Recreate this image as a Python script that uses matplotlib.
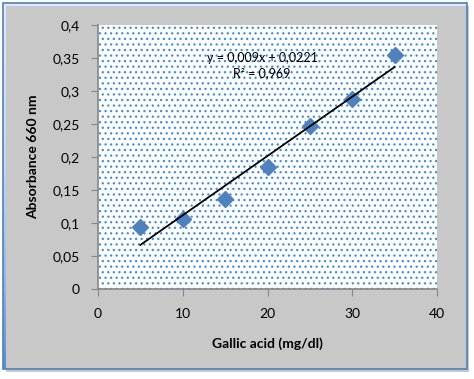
import matplotlib
matplotlib.use('Agg')
import matplotlib.pyplot as plt
import numpy as np
from matplotlib.colors import LinearSegmentedColormap
from matplotlib.patches import Rectangle
from matplotlib.ticker import FuncFormatter

# Datos
concentracion = [5, 10, 15, 20, 25, 30, 35]
absorbancia = [0.094, 0.106, 0.136, 0.185, 0.247, 0.288, 0.355]
x_ticks = [0, 10, 20, 30, 40]
y_ticks = [0, 0.05, 0.1, 0.15, 0.2, 0.25, 0.3, 0.35, 0.4]
ecuacion = "y = 0,009x + 0,0221"
r2 = "R² = 0,969"

plt.rcParams['font.family'] = ['Lato', 'DejaVu Sans']
plt.rcParams['hatch.linewidth'] = 0.9

fig = plt.figure(figsize=(4.74, 3.79), dpi=100)
fig.patch.set_facecolor('white')

# Fondo degradado del área del gráfico
bg = fig.add_axes([0, 0, 1, 1], zorder=-10)
bg.set_xlim(0, 474)
bg.set_ylim(379, 0)
bg.axis('off')
cmap = LinearSegmentedColormap.from_list(
    'fondo', [(0, '#e0eafb'), (0.45, '#c3d7f6'), (0.75, '#95b8ea'), (1, '#5a8dd4')])
grad = np.linspace(0, 1, 256).reshape(-1, 1)
# sombra
bg.add_patch(Rectangle((6, 6), 463, 366, facecolor='#c8c8c8', edgecolor='none'))
bg.imshow(grad, cmap=cmap, extent=[3, 467, 369, 3], aspect='auto')
bg.add_patch(Rectangle((3, 3), 464, 366, facecolor='none', edgecolor='#4f81bd', lw=1.2))

ax = fig.add_axes([98 / 474, 1 - 289 / 379, (437 - 98) / 474, (289 - 25) / 379])
ax.set_facecolor('white')
ax.add_patch(Rectangle((0, 0), 1, 1, transform=ax.transAxes, facecolor='white',
                       edgecolor='#3f8fd8', hatch='...', lw=0, zorder=0))

ax.plot(concentracion, absorbancia, linestyle='none', marker='D', markersize=8.5,
        color='#4f81bd', zorder=3)

# Línea de tendencia lineal
m, b = np.polyfit(concentracion, absorbancia, 1)
xs = np.array([min(concentracion), max(concentracion)])
ax.plot(xs, m * xs + b, color='black', lw=1.3, zorder=4)

fig.text(262 / 474, 1 - 58 / 379, ecuacion, fontsize=9, ha='center', va='center')
fig.text(262 / 474, 1 - 73 / 379, r2, fontsize=9, ha='center', va='center')

ax.set_xlim(0, 40)
ax.set_ylim(0, 0.4)
ax.set_xticks(x_ticks)
ax.set_yticks(y_ticks)
fmt = FuncFormatter(lambda v, p: ('%g' % v).replace('.', ','))
ax.xaxis.set_major_formatter(fmt)
ax.yaxis.set_major_formatter(fmt)
ax.tick_params(direction='out', length=5, color='#868686', labelsize=10, pad=8)
ax.tick_params(axis='x', pad=9)
for s in ['top', 'right']:
    ax.spines[s].set_visible(False)
for s in ['left', 'bottom']:
    ax.spines[s].set_color('#868686')
    ax.spines[s].set_linewidth(1.2)

ax.set_xlabel('Gallic acid (mg/dl)', fontsize=10, fontweight='bold', labelpad=12)
ax.set_ylabel('Absorbance 660 nm', fontsize=10, fontweight='bold', labelpad=10)

fig.savefig('out.png', dpi=100)
